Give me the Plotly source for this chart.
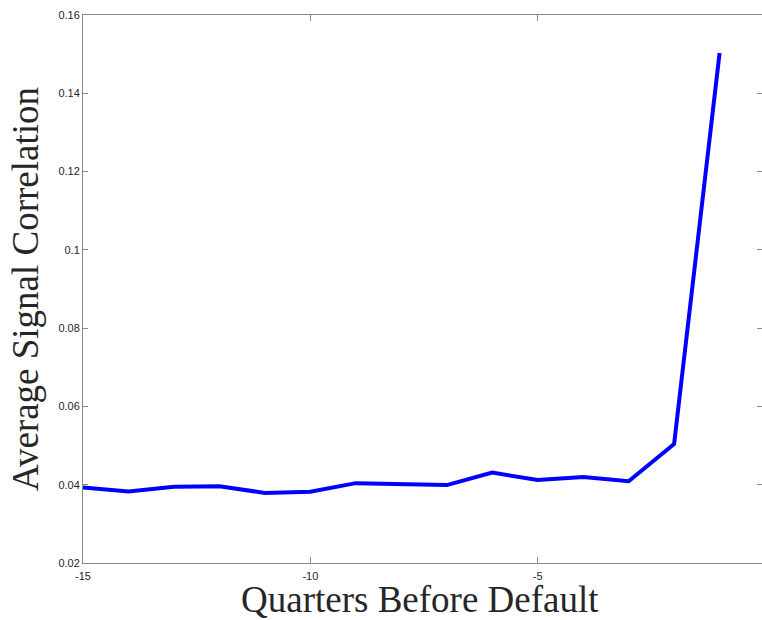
import plotly.graph_objects as go

quarters = [-15, -14, -13, -12, -11, -10, -9, -8, -7, -6, -5, -4, -3, -2, -1]
avg_corr = [0.0393, 0.0383, 0.0395, 0.0396, 0.0379, 0.0382, 0.0404, 0.0402, 0.0399,
            0.0431, 0.0412, 0.0420, 0.0409, 0.0504, 0.1503]
x_ticks = [-15, -10, -5, 0]
y_ticks = [0.02, 0.04, 0.06, 0.08, 0.10, 0.12, 0.14, 0.16]
y_tick_text = ["0.02", "0.04", "0.06", "0.08", "0.1", "0.12", "0.14", "0.16"]
x_title = "Quarters Before Default"
y_title = "Average Signal Correlation"

axis_col = "#8a8a8a"
tick_font = dict(family="Liberation Sans, Arial, sans-serif", size=11, color="#262626")
title_font = dict(family="Liberation Serif, Times New Roman, serif", size=37, color="#262626")

fig = go.Figure()
fig.add_trace(go.Scatter(x=quarters, y=avg_corr, mode="lines",
                         line=dict(color="#0000ff", width=4), showlegend=False))
fig.add_trace(go.Scatter(x=quarters, y=avg_corr, mode="lines", yaxis="y2",
                         line=dict(color="rgba(0,0,0,0)", width=0),
                         showlegend=False, hoverinfo="skip"))

fig.update_layout(
    width=762, height=620,
    margin=dict(l=83, r=0, t=15, b=57),
    plot_bgcolor="white", paper_bgcolor="white",
    xaxis=dict(range=[-15, -0.067], tickvals=x_ticks, ticktext=["-15", "-10", "-5", "0"],
               automargin=False,
               showgrid=False, zeroline=False, showline=True, linecolor=axis_col, linewidth=1,
               mirror="ticks", ticks="inside", ticklen=6, tickcolor=axis_col,
               tickfont=tick_font, ticklabelstandoff=3),
    yaxis=dict(range=[0.02, 0.16], tickvals=y_ticks, ticktext=y_tick_text,
               automargin=False,
               showgrid=False, zeroline=False, showline=True, linecolor=axis_col, linewidth=1,
               ticks="inside", ticklen=5, tickcolor=axis_col, tickfont=tick_font,
               title=dict(text=y_title, font=title_font, standoff=8)),
    yaxis2=dict(range=[0.02, 0.16], overlaying="y", side="right", anchor="x",
                automargin=False,
                tickvals=y_ticks, showticklabels=False, showgrid=False, zeroline=False,
                showline=False, ticks="inside", ticklen=5, tickcolor=axis_col),
)
fig.add_annotation(text=x_title, xref="paper", yref="paper", x=0.496, y=0,
                   xanchor="center", yanchor="middle", yshift=-36, borderpad=0,
                   showarrow=False, font=title_font)

fig.write_html("out.html", config={"displayModeBar": False},
               post_script="document.body.style.margin='0';document.body.style.overflow='hidden';")
